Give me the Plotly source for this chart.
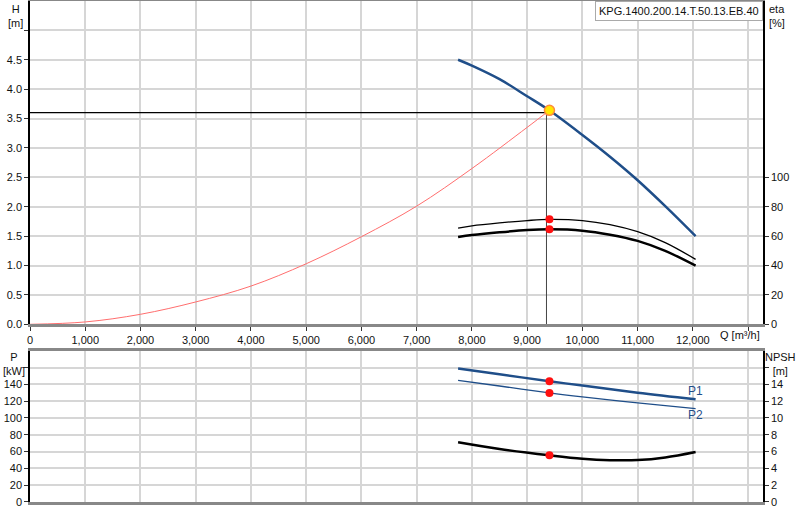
import plotly.graph_objects as go

# pump curve H(Q)
q_h = [7750, 8000, 8500, 9000, 9400, 10000, 10500, 11000, 11500, 12050]
h = [4.50, 4.40, 4.17, 3.88, 3.64, 3.22, 2.85, 2.45, 2.01, 1.50]

# system curve
q_sys = [0, 1000, 2000, 3000, 4000, 5000, 6000, 7000, 8000, 9000, 9404]
h_sys = [0.0, 0.04, 0.17, 0.38, 0.65, 1.03, 1.49, 2.01, 2.65, 3.35, 3.64]

# efficiency curves
q_eta = [7750, 8000, 8500, 9000, 9404, 10000, 10500, 11000, 11500, 12050]
eta1 = [65.5, 67.0, 69.0, 70.6, 71.4, 70.6, 67.8, 63.0, 55.6, 44.2]
eta2 = [59.4, 60.7, 62.6, 64.1, 64.6, 63.7, 61.0, 56.8, 50.0, 39.9]

# power and npsh
q_p = [7750, 8500, 9404, 10000, 11000, 12050]
p1 = [158.9, 152.0, 143.6, 138.5, 130.0, 122.2]
p2 = [144.7, 138.0, 129.7, 125.0, 118.0, 111.2]
q_npsh = [7750, 8500, 9404, 10000, 10500, 11000, 11500, 12050]
npsh = [7.10, 6.30, 5.56, 5.15, 4.98, 4.99, 5.30, 5.95]

# duty point
q_duty = 9404
h_duty = 3.64
q_line = 9350
h_line = 3.60

model = "KPG.1400.200.14.T.50.13.EB.40"

x_ticks = list(range(0, 14000, 1000))
x_labels = [f"{v:,}" for v in x_ticks[:-1]] + [""]
h_ticks = [i * 0.5 for i in range(11)]
h_labels = [f"{v:.1f}" for v in h_ticks[:-1]] + [""]
eta_ticks = [0, 20, 40, 60, 80, 100]
p_ticks = list(range(0, 180, 20))
p_labels = [str(v) for v in p_ticks[:-1]] + [""]
npsh_ticks = list(range(0, 18, 2))
npsh_labels = [str(v) for v in npsh_ticks[:-1]] + [""]

BLUE = "#1f4e89"
GRID = "#d6d6d6"
FONT = dict(family="Liberation Sans, Arial", size=11, color="#111")

fig = go.Figure()

# top plot
fig.add_trace(go.Scatter(x=[0, q_line], y=[h_line, h_line], mode="lines",
                         line=dict(color="black", width=1.3), xaxis="x", yaxis="y"))
fig.add_trace(go.Scatter(x=[q_line, q_line], y=[0, h_line], mode="lines",
                         line=dict(color="#444", width=1), xaxis="x", yaxis="y"))
fig.add_trace(go.Scatter(x=q_sys, y=h_sys, mode="lines", line=dict(color="#ff6e6e", width=1, shape="spline"),
                         xaxis="x", yaxis="y"))
fig.add_trace(go.Scatter(x=q_h, y=h, mode="lines", line=dict(color=BLUE, width=2.5, shape="spline"),
                         xaxis="x", yaxis="y"))
fig.add_trace(go.Scatter(x=q_eta, y=eta1, mode="lines", line=dict(color="black", width=1.3, shape="spline"),
                         xaxis="x", yaxis="y2"))
fig.add_trace(go.Scatter(x=q_eta, y=eta2, mode="lines", line=dict(color="black", width=2.5, shape="spline"),
                         xaxis="x", yaxis="y2"))
fig.add_trace(go.Scatter(x=[q_duty, q_duty], y=[eta1[4], eta2[4]], mode="markers",
                         marker=dict(color="#ff1010", size=8), xaxis="x", yaxis="y2"))
fig.add_trace(go.Scatter(x=[q_duty], y=[h_duty], mode="markers",
                         marker=dict(color="#ffe600", size=10, line=dict(color="#ff8a3d", width=1.5)),
                         xaxis="x", yaxis="y"))

# bottom plot
fig.add_trace(go.Scatter(x=q_p, y=p1, mode="lines", line=dict(color=BLUE, width=2.5, shape="spline"),
                         xaxis="x2", yaxis="y3"))
fig.add_trace(go.Scatter(x=q_p, y=p2, mode="lines", line=dict(color=BLUE, width=1.3, shape="spline"),
                         xaxis="x2", yaxis="y3"))
fig.add_trace(go.Scatter(x=q_npsh, y=npsh, mode="lines", line=dict(color="black", width=2.5, shape="spline"),
                         xaxis="x2", yaxis="y4"))
fig.add_trace(go.Scatter(x=[q_duty, q_duty], y=[p1[2], p2[2]], mode="markers",
                         marker=dict(color="#ff1010", size=8), xaxis="x2", yaxis="y3"))
fig.add_trace(go.Scatter(x=[q_duty], y=[npsh[2]], mode="markers",
                         marker=dict(color="#ff1010", size=8), xaxis="x2", yaxis="y4"))

xcommon = dict(range=[0, 13270], tickvals=x_ticks, showgrid=True, gridcolor=GRID, gridwidth=1.5,
               showline=True, linecolor="#888", linewidth=2.5, mirror=True, ticks="outside",
               ticklen=4, tickcolor="#333", zeroline=False, tickfont=FONT, automargin=False)
ycommon = dict(showgrid=True, gridcolor=GRID, gridwidth=1.5, showline=True, linecolor="black",
               linewidth=1.5, ticks="outside", ticklen=4, tickcolor="#333", zeroline=False,
               tickfont=FONT, automargin=False)

fig.update_layout(
    width=800, height=520,
    margin=dict(l=30, r=37, t=1, b=18, autoexpand=False),
    plot_bgcolor="white", paper_bgcolor="white",
    showlegend=False, font=FONT, hovermode=False,
    xaxis=dict(xcommon, domain=[0, 1], anchor="y", ticktext=x_labels),
    yaxis=dict(ycommon, domain=[0.3547, 1], range=[0, 5.5], tickvals=h_ticks, ticktext=h_labels),
    yaxis2=dict(overlaying="y", side="right", range=[0, 220], tickvals=eta_ticks, showgrid=False,
                showline=True, linecolor="black", linewidth=1.5, ticks="outside", ticklen=4,
                tickcolor="#333", zeroline=False, tickfont=FONT, anchor="x", automargin=False),
    xaxis2=dict(xcommon, domain=[0, 1], anchor="y3", showticklabels=False, ticks=""),
    yaxis3=dict(ycommon, domain=[0, 0.302], range=[0, 180], tickvals=p_ticks, ticktext=p_labels),
    yaxis4=dict(overlaying="y3", side="right", range=[0, 18], tickvals=npsh_ticks, ticktext=npsh_labels,
                showgrid=False, showline=True, linecolor="black", linewidth=1.5, ticks="outside",
                ticklen=4, tickcolor="#333", zeroline=False, tickfont=FONT, anchor="x2", automargin=False),
)

ann = [
    dict(text="H<br>[m]", x=-0.02, y=1.0, xanchor="center", yanchor="top"),
    dict(text="eta<br>[%]", x=1.006, y=1.0, xanchor="left", yanchor="top", align="left"),
    dict(text="P<br>[kW]", x=-0.022, y=0.306, xanchor="center", yanchor="top"),
    dict(text="NPSH<br>[m]", x=1.024, y=0.306, xanchor="center", yanchor="top"),
    dict(text="Q [m³/h]", x=0.968, y=0.3547, xanchor="center", yanchor="top", yshift=-3),
]
for a in ann:
    fig.add_annotation(xref="paper", yref="paper", showarrow=False, font=FONT, **a)

fig.add_annotation(xref="paper", yref="paper", x=1, y=1, xanchor="right", yanchor="top",
                   text=model, showarrow=False, font=FONT, bgcolor="white",
                   bordercolor="#aaa", borderwidth=1, borderpad=3)
fig.add_annotation(xref="x2", yref="y3", x=12040, y=132, text="P1", showarrow=False,
                   font=dict(FONT, color=BLUE, size=12))
fig.add_annotation(xref="x2", yref="y3", x=12040, y=104, text="P2", showarrow=False,
                   font=dict(FONT, color=BLUE, size=12))

# page body has an 8px default margin; drop it so the chart sits at the window corner
fig.write_html("out.html", config={"displayModeBar": False},
               post_script="document.body.style.margin='0';")
